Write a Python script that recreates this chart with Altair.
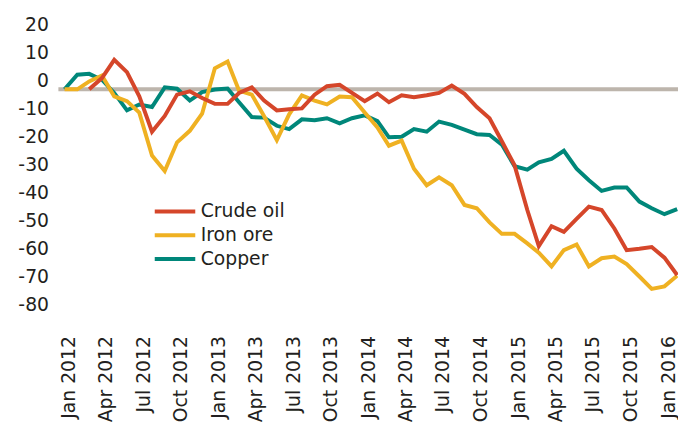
import altair as alt
import pandas as pd

FONT = "DejaVu Sans"
TEXT = "#231f20"

months = pd.date_range("2012-01-01", periods=50, freq="MS").strftime("%Y-%m-%d").tolist()

crude_oil = [None, None, 0, 4.0, 10.5, 6.1, -2.5, -15.1, -9.5, -1.9,
             -0.7, -3.1, -5.2, -5.2, -1.3, 0.7, -4.0, -7.5, -7.1, -6.8,
             -1.9, 1.1, 1.6, -1.3, -4.2, -1.5, -4.6, -2.1, -2.8, -2.1,
             -1.3, 1.3, -1.6, -6.3, -10.3, -18.5, -27.1, -43.0, -55.9, -48.8,
             -50.8, -46.2, -41.8, -43.0, -49.6, -57.3, -56.8, -56.2, -60.0, -66.2]
iron_ore = [0, 0, 2.8, 4.9, -2.5, -4.2, -8.3, -23.6, -29.1, -18.9,
            -14.8, -8.7, 7.5, 9.9, -0.5, -1.9, -9.6, -18.1, -8.9, -2.2,
            -4.0, -5.4, -2.6, -2.8, -8.3, -13.6, -20.1, -18.3, -28.3, -34.2,
            -31.4, -34.2, -41.2, -42.4, -47.4, -51.5, -51.5, -54.9, -58.2, -63.1,
            -57.3, -55.3, -63.1, -60.2, -59.6, -62.3, -66.7, -71.1, -70.2, -66.4]
copper = [0, 5.2, 5.5, 3.4, -1.3, -7.5, -5.4, -6.3, 0.7, 0.2,
          -4.0, -1.0, -0.1, 0.3, -4.6, -9.9, -10.1, -13.0, -14.2, -10.7,
          -11.0, -10.3, -12.1, -10.3, -9.3, -11.3, -17.1, -16.9, -14.2, -15.1,
          -11.5, -12.7, -14.4, -16.0, -16.3, -19.7, -27.4, -28.6, -26.0, -24.8,
          -21.9, -28.3, -32.4, -36.2, -35.0, -35.0, -40.0, -42.4, -44.5, -42.7]

names = ["Crude oil", "Iron ore", "Copper"]
colors = ["#d5462a", "#efb122", "#00877a"]
y_ticks = [20, 10, 0, -10, -20, -30, -40, -50, -60, -70, -80]
label_years = [2012, 2013, 2014, 2015, 2016]
label_months = [1, 4, 7, 10]

rows = []
for name, vals in zip(names, [crude_oil, iron_ore, copper]):
    for m, v in zip(months, vals):
        if v is not None:
            rows.append({"month": m, "series": name, "value": v})
df = pd.DataFrame(rows)

tick_values = []
for yr in label_years:
    for mo in label_months:
        if yr == 2016 and mo > 1:
            continue
        tick_values.append(alt.DateTime(year=yr, month=mo, date=1))

x_enc = alt.X(
    "month:T",
    scale=alt.Scale(domain=[alt.DateTime(year=2011, month=12, date=17),
                            alt.DateTime(year=2016, month=2, date=3)]),
    axis=alt.Axis(title=None, format="%b %Y", values=tick_values, labelAngle=270,
                  labelAlign="right", labelBaseline="middle", grid=False,
                  domain=False, ticks=False, tickSize=0, labelPadding=22,
                  labelOffset=4, labelFontSize=19, labelOverlap=False),
)
y_scale = alt.Scale(domain=[-80, 20], nice=False, zero=False)
y_axis = alt.Axis(title=None, values=y_ticks, grid=False, domain=False, ticks=False,
                  tickSize=0, labelPadding=10, labelOffset=-9, labelFontSize=19,
                  labelOverlap=False,
                  labelExpr="datum.value < 0 ? '-' + abs(datum.value) : '' + datum.value")
y_enc = alt.Y("value:Q", scale=y_scale, axis=y_axis)
color_enc = alt.Color(
    "series:N",
    scale=alt.Scale(domain=names, range=colors),
    legend=alt.Legend(title=None, orient="none", legendX=108.5, legendY=171,
                      symbolType="M-4.1,0H4.1", symbolSize=100, symbolStrokeWidth=4,
                      labelFontSize=19, labelOffset=16.5, rowPadding=4, padding=0),
)

base = alt.Chart(df).mark_line(strokeWidth=4).encode(x=x_enc, y=y_enc, color=color_enc)

zero = alt.Chart(pd.DataFrame({"value": [0]})).mark_rule(color="#bdb5ac", strokeWidth=4).encode(
    y=alt.Y("value:Q", scale=y_scale, axis=y_axis))

layers = [zero]
for name in ["Copper", "Iron ore", "Crude oil"]:
    layers.append(base.transform_filter(alt.datum.series == name))

chart = alt.layer(*layers).properties(
    width=627, height=284,
    autosize=alt.AutoSizeParams(type="none"),
    padding={"left": 51, "top": 23, "right": 0, "bottom": 107},
).configure_axis(
    labelFont=FONT, labelColor=TEXT
).configure_legend(
    labelFont=FONT, labelColor=TEXT
).configure_view(strokeWidth=0)

chart.save("out.html", embed_options={"renderer": "svg", "actions": False})
